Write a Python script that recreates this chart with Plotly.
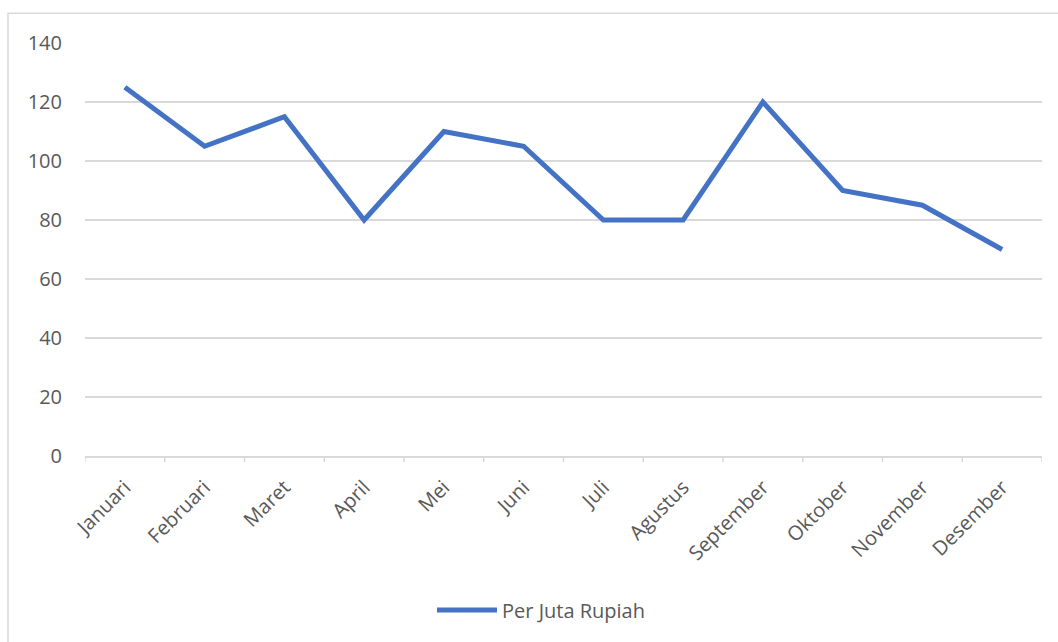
import plotly.graph_objects as go

months = ["Januari", "Februari", "Maret", "April", "Mei", "Juni", "Juli",
          "Agustus", "September", "Oktober", "November", "Desember"]
values = [125, 105, 115, 80, 110, 105, 80, 80, 120, 90, 85, 70]
series_name = "Per Juta Rupiah"

W, H = 1058, 642
L, R, T, B = 85, 1042, 43, 459
pw, ph = R - L, B - T

fig = go.Figure()
fig.add_trace(go.Scatter(
    x=list(range(len(months))), y=values, mode="lines", name=series_name,
    line=dict(color="#4472C4", width=5, shape="linear"),
))

font_fam = "Open Sans, Liberation Sans, sans-serif"
fig.update_layout(
    width=W, height=H,
    margin=dict(l=L, r=W - R, t=T, b=H - B),
    paper_bgcolor="white", plot_bgcolor="white",
    font=dict(family=font_fam, size=20, color="#595959"),
    showlegend=True,
    legend=dict(orientation="h", x=(541 - L) / pw, xanchor="center",
                y=(B - 614) / ph, yanchor="middle",
                font=dict(size=20, color="#595959"), itemwidth=60),
    xaxis=dict(
        range=[-0.5, len(months) - 0.5],
        tickmode="array", tickvals=list(range(len(months))), ticktext=months,
        tickangle=-45, showgrid=False, zeroline=False,
        showline=True, linecolor="#d9d9d9", linewidth=1.5,
        ticks="", fixedrange=True, tickfont=dict(size=20),
        ticklabelstandoff=10,
    ),
    yaxis=dict(
        range=[0, 140], dtick=20, tickmode="linear",
        showgrid=True, gridcolor="#d9d9d9", gridwidth=1.5,
        zeroline=False, showline=False, ticks="",
        ticklabelstandoff=22, tickfont=dict(size=20),
    ),
    shapes=[
        dict(type="rect", xref="paper", yref="paper",
             x0=(8 - L) / pw, x1=(W + 20 - L) / pw,
             y0=(B - (H + 20)) / ph, y1=(B - 13) / ph,
             line=dict(color="#d9d9d9", width=1.5), fillcolor="rgba(0,0,0,0)",
             layer="below"),
    ],
)
# category boundary tick marks on x axis
for i in range(len(months) + 1):
    fig.add_shape(type="line", xref="x", yref="paper",
                  x0=i - 0.5, x1=i - 0.5, y0=0, y1=-6 / ph,
                  line=dict(color="#d9d9d9", width=1.5))

fig.write_html("out.html")
